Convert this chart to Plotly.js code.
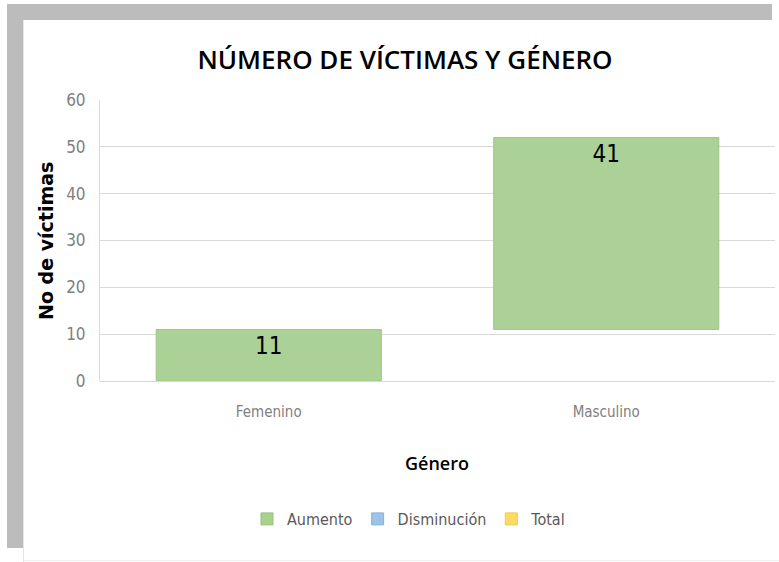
<!DOCTYPE html>
<html>
<head>
<meta charset="utf-8">
<script src="https://cdn.plot.ly/plotly-3.0.1.min.js"></script>
<style>
  html, body { margin: 0; padding: 0; background: #ffffff; }
  #wrap { position: relative; width: 779px; height: 562px; overflow: hidden; }
  .band { position: absolute; background: #bcbcbc; }
  #chart { position: absolute; left: 0; top: 0; width: 779px; height: 562px; }
</style>
</head>
<body>
<div id="wrap">
  <div class="band" style="left:7px; top:4px; width:765px; height:16px;"></div>
  <div class="band" style="left:7px; top:4px; width:16px; height:544px;"></div>
  <div style="position:absolute; left:23px; top:20px; width:1px; height:542px; background:#e6e6e6;"></div>
  <div style="position:absolute; left:23px; top:560px; width:756px; height:1px; background:#eeeeee;"></div>
  <div id="chart"></div>
</div>
<script>
const categories = ['Femenino', 'Masculino'];
const values = [11, 41];
const measures = ['relative', 'relative'];
const legendNames = ['Aumento', 'Disminución', 'Total'];
const legendColors = ['#a9d18e', '#9dc3e6', '#ffd966'];
const legendLines = ['#94c27a', '#85b2dc', '#f2c94c'];
const yTicks = [0, 10, 20, 30, 40, 50, 60];

const W = 779, H = 562;
const mL = 100, mR = 4, mT = 100, mB = 181;
const plotW = W - mL - mR, plotH = H - mT - mB;
const px = x => (x - mL) / plotW;
const py = y => (H - mB - y) / plotH;

const traces = [{
  type: 'waterfall',
  x: categories,
  y: values,
  measure: measures,
  text: values.map(String),
  textposition: 'inside',
  insidetextanchor: 'end',
  textfont: { family: 'DejaVu Sans Condensed, sans-serif', size: 24, color: '#000000' },
  increasing: { marker: { color: '#acd197', line: { color: '#9cc784', width: 1 } } },
  decreasing: { marker: { color: legendColors[1] } },
  totals: { marker: { color: legendColors[2] } },
  connector: { visible: false },
  showlegend: false,
  hoverinfo: 'x+y'
}];
legendNames.forEach((n, i) => {
  traces.push({
    type: 'bar', x: [null], y: [null], name: n,
    xaxis: 'x2', yaxis: 'y2',
    marker: { color: legendColors[i], line: { color: legendLines[i], width: 1 } },
    showlegend: true, hoverinfo: 'skip'
  });
});

const layout = {
  width: W, height: H,
  margin: { l: mL, r: mR, t: mT, b: mB, pad: 0 },
  paper_bgcolor: 'rgba(0,0,0,0)',
  plot_bgcolor: 'rgba(0,0,0,0)',
  font: { family: 'DejaVu Sans Condensed, sans-serif', color: '#808080' },
  title: {
    text: 'NÚMERO DE VÍCTIMAS Y GÉNERO',
    font: { family: 'Open Sans, sans-serif', size: 26, weight: 600, color: '#000000' },
    x: 405 / W, xanchor: 'center',
    y: 1 - 60 / H, yanchor: 'middle', xref: 'container', yref: 'container'
  },
  waterfallgap: 0.333,
  xaxis: {
    type: 'category',
    showgrid: false, zeroline: false,
    showline: false, ticks: '',
    tickfont: { size: 15, color: '#808080' },
    ticklabelstandoff: 20,
    fixedrange: true
  },
  yaxis: {
    range: [0, 60],
    tickvals: yTicks,
    ticktext: yTicks.map(String),
    showgrid: true, gridcolor: '#d9d9d9', gridwidth: 1,
    zeroline: true, zerolinecolor: '#d9d9d9', zerolinewidth: 1,
    showline: true, linecolor: '#d9d9d9', linewidth: 1,
    ticks: '',
    tickfont: { size: 17, color: '#808080' },
    ticklabelstandoff: 10,
    fixedrange: true
  },
  xaxis2: { visible: false, overlaying: 'x', fixedrange: true },
  yaxis2: { visible: false, overlaying: 'y', fixedrange: true },
  showlegend: true,
  legend: {
    orientation: 'h',
    x: px(409), xanchor: 'center',
    y: py(519), yanchor: 'middle',
    font: { size: 16, color: '#595959' },
    itemwidth: 30,
    itemclick: false, itemdoubleclick: false,
    traceorder: 'normal'
  },
  annotations: [
    {
      text: '<b>No de víctimas</b>', xref: 'paper', yref: 'paper',
      x: px(46), y: py(241), xanchor: 'center', yanchor: 'middle',
      textangle: -90, showarrow: false,
      font: { family: 'DejaVu Sans, sans-serif', size: 19, color: '#000000' }
    },
    {
      text: 'Género', xref: 'paper', yref: 'paper',
      x: px(437), y: py(463), xanchor: 'center', yanchor: 'middle',
      showarrow: false,
      font: { family: 'Open Sans, sans-serif', size: 18, weight: 600, color: '#000000' }
    }
  ]
};

Plotly.newPlot('chart', traces, layout, { displayModeBar: false, staticPlot: false });
</script>
</body>
</html>
